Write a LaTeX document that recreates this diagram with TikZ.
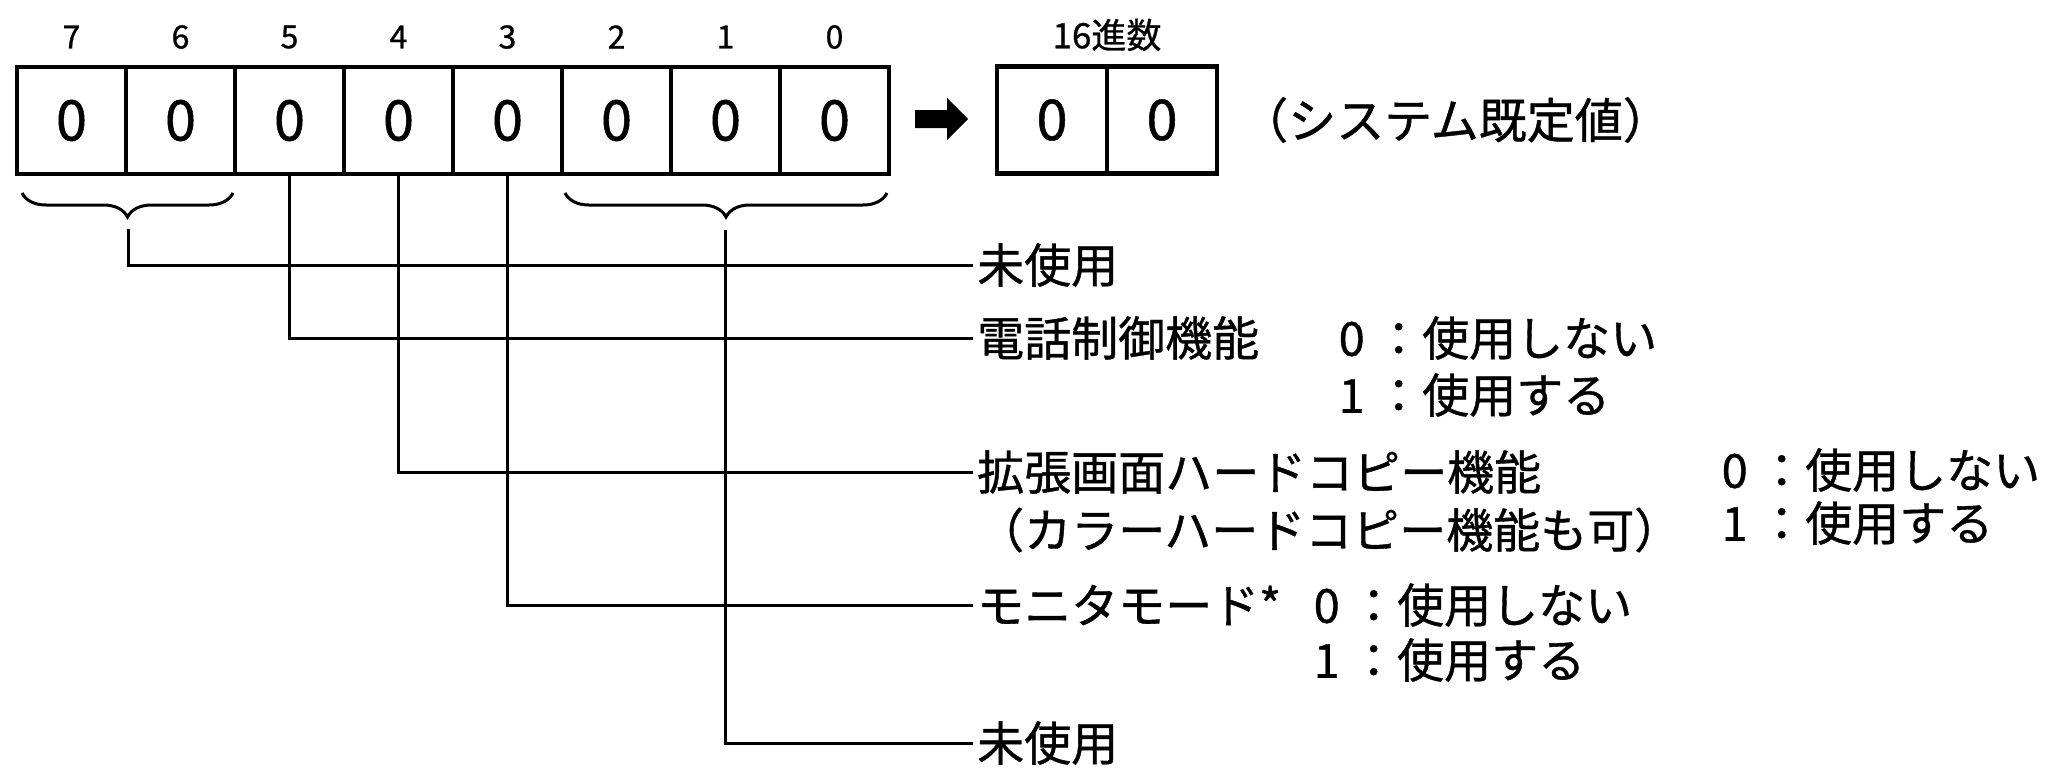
\documentclass[tikz,border=0pt]{standalone}
\usepackage{fontspec}
\setmainfont{Noto Sans CJK JP}[FakeBold=0.8,AutoFakeBold=0.8]
\usetikzlibrary{decorations.pathreplacing}
\begin{document}
\begin{tikzpicture}[x=1pt,y=-1pt,
  cell/.style={draw, line width=4.5pt, minimum width=109pt, minimum height=107pt, inner sep=0pt, font={\fontsize{56}{60}\selectfont}},
  hexcell/.style={cell, minimum width=110pt},
  bitnum/.style={inner sep=0pt, font={\fontsize{32}{36}\selectfont}},
  lab/.style={anchor=west, inner sep=0pt, font={\fontsize{47}{52}\selectfont}},
  featlab/.style={lab, inner xsep=4pt},
  conn/.style={line width=3pt},
  bracestyle/.style={line width=3pt, decorate, decoration={brace, mirror, amplitude=24pt}},
]
\useasboundingbox (0,0) rectangle (2052,777);
\fill[white] (0,0) rectangle (2052,777);

% bit cells
\foreach \b [count=\k from 0] in {7,6,5,4,3,2,1,0} {
  \node[cell] (c\b) at ({17+109*(\k+0.5)},120.5) {\bfseries 0};
  \node[bitnum] (n\b) at ({17+109*(\k+0.5)},37) {\bfseries\b};
}

% arrow
\fill (915,110) -- (947,110) -- (947,98) -- (968,119) -- (947,140) -- (947,128) -- (915,128) -- cycle;

% hex cells
\node[hexcell] (h1) at (1052,120) {\bfseries 0};
\node[hexcell] (h0) at (1162,120) {\bfseries 0};
\node[bitnum, font={\fontsize{35}{38}\selectfont\bfseries}] (hexlab) at (1107,35) {16進数};
\node[lab, font={\fontsize{48}{52}\selectfont\bfseries}] (sys) at (1240,120) {（システム既定値）};

% braces
\draw[bracestyle] (22,193) -- (233,193);
\draw[bracestyle] (565,193) -- (887,193);
\coordinate (lbt) at (128,229);
\coordinate (rbt) at (725.5,230);

% feature labels
\begin{scope}[every node/.append style={font={\fontsize{47}{52}\selectfont\bfseries}}]
\node[featlab] (l1) at (973,265) {未使用};
\node[featlab] (l2) at (973,338) {電話制御機能};
\node[featlab] (l3) at (973,472) {拡張画面ハードコピー機能};
\node[featlab] (l3b) at (973,530) {（カラーハードコピー機能も可）};
\node[featlab] (l4) at (973,605) {モニタモード*};
\node[featlab] (l5) at (973,743) {未使用};

% option texts
\node[lab] (o2a) at (1328,338) {\makebox[1em]{0}：使用しない};
\node[lab] (o2b) at (1328,395) {\makebox[1em]{1}：使用する};
\node[lab] (o3a) at (1711,470) {\makebox[1em]{0}：使用しない};
\node[lab] (o3b) at (1711,523) {\makebox[1em]{1}：使用する};
\node[lab] (o4a) at (1303,605) {\makebox[1em]{0}：使用しない};
\node[lab] (o4b) at (1303,660) {\makebox[1em]{1}：使用する};
\end{scope}

% connectors
\draw[conn] (lbt) |- (l1.west);
\draw[conn] (c5.south) |- (l2.west);
\draw[conn] (c4.south) |- (l3.west);
\draw[conn] (c3.south) |- (l4.west);
\draw[conn] (rbt) |- (l5.west);
\end{tikzpicture}
\end{document}
